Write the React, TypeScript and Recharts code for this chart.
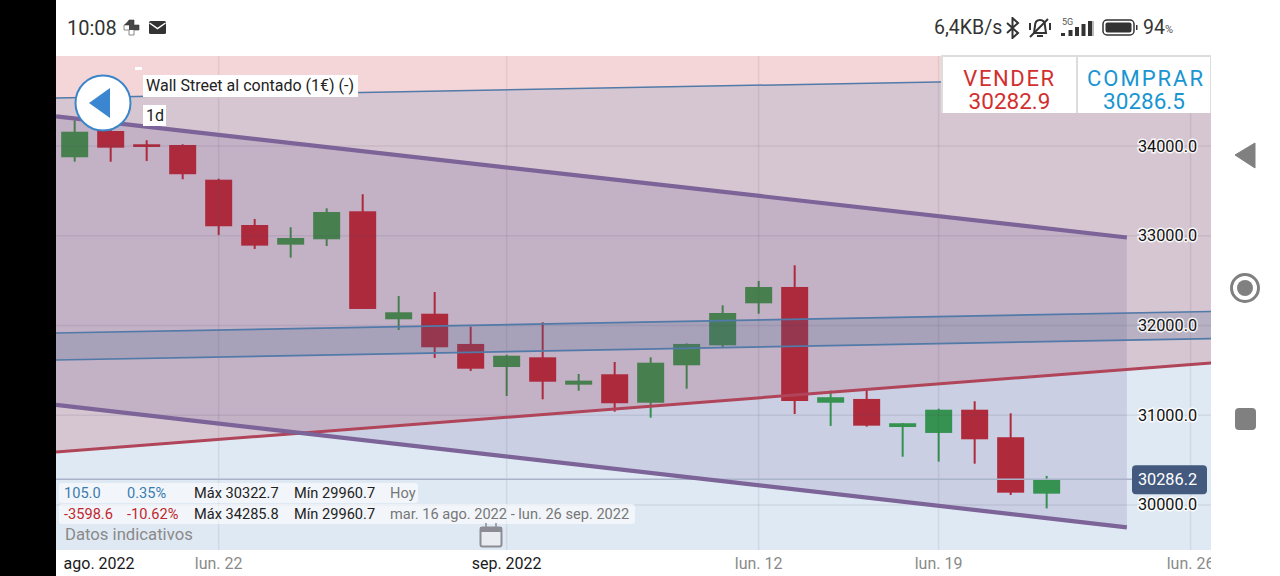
import React from 'react';
import { ComposedChart, Bar, Area, Line, XAxis, YAxis, ReferenceLine } from 'recharts';

// candles: one value per trading day
const indexes = [0,1,2,3,4,5,6,7,8,9,10,11,12,13,14,15,16,17,18,19,20,21,22,23,24,25,26,27];
const opens = [33875,34168,34020,34012,33625,33120,32901,32961,33273,32069,32131,31794,31537,31645,31340,31456,31139,31556,31779,32247,32429,31139,31181,30868,30802,31061,30754,30125];
const closes = [34160,33982,33990,33686,33106,32890,32975,33265,32184,32147,31757,31518,31663,31373,31385,31133,31585,31794,32139,32429,31158,31200,30883,30910,31061,30731,30136,30286];
const highs = [34286,34179,34065,34020,33636,33187,33095,33306,33463,32329,32373,31987,31674,32036,31459,31593,31645,31800,32225,32496,32671,31273,31289,30913,31072,31155,31021,30323];
const lows = [33826,33826,33834,33630,33009,32853,32756,32886,32184,31950,31638,31493,31214,31177,31273,31039,30972,31295,31752,32131,31013,30880,30872,30537,30482,30459,30110,29961];

// drawn levels, as [left end, right end]
const xFull = [-0.517, 31.567];
const xChannel = [-0.517, 29.23];
const yMin = 29497;
const yMax = 35004;
const resistanceHigh = [34536, 34770];
const bandUpper = [31916, 32156];
const bandLower = [31615, 31854];
const supportRed = [30590, 31582];
const channelUpper = [34330, 32981];
const channelLower = [31114, 29750];
const lastPrice = 30286.2;
const xPriceEnd = 29.37;

const yTicks = [30000, 31000, 32000, 33000, 34000];
const xTicks = [0.68, 4, 12, 19, 24, 31];
const xTickLabels = ['ago. 2022', 'lun. 22', 'sep. 2022', 'lun. 12', 'lun. 19', 'lun. 26'];
const xMonthTicks = ['ago. 2022', 'sep. 2022'];
const gridX = [4, 12, 19, 24, 31];

const candles = indexes.map((x, i) => ({ x, open: opens[i], close: closes[i], high: highs[i], low: lows[i], range: [lows[i], highs[i]] }));
const band = (xs: number[], lo: number[], hi: number[]) => xs.map((x, i) => ({ x, lo: lo[i], hi: hi[i], r: [lo[i], hi[i]] }));
const pinkZone = band(xFull, supportRed, [yMax, yMax]);
const blueZone = band(xFull, [yMin, yMin], resistanceHigh);
const purpleZone = band(xChannel, channelLower, channelUpper);
const blueBand = band(xFull, bandLower, bandUpper);
const seg = (xs: number[], v: number[]) => xs.map((x, i) => ({ x, v: v[i] }));

const Candle = (p: any) => {
  const { x, y, width, height, payload } = p;
  const { open, close, high, low } = payload;
  const py = (v: number) => y + ((high - v) / (high - low)) * height;
  const up = close >= open;
  const col = up ? '#31ab36' : '#da1d18';
  const top = py(Math.max(open, close));
  const bot = py(Math.min(open, close));
  const cx = x + width / 2;
  return (
    <g>
      <rect x={cx - 1} y={y} width={2} height={height} fill={col} />
      <rect x={cx - 13.5} y={top} width={27} height={Math.max(bot - top, 1)} fill={col} />
    </g>
  );
};

const YTick = (p: any) => {
  const { y, payload } = p;
  const isLast = payload.value === lastPrice;
  const t = Number(payload.value).toFixed(1);
  const cx = 1112;
  return (
    <g>
      {isLast && <rect x={cx - 36} y={y - 14} width={75} height={29} rx={4} fill="#435a7e" />}
      <text
        x={cx - 0.5}
        y={y + 5.5}
        textAnchor="middle"
        fontFamily="Roboto"
        fontSize={16.3}
        fill={isLast ? '#ffffff' : '#111111'}
        stroke={isLast ? 'none' : 'rgba(255,255,255,0.85)'}
        strokeWidth={isLast ? 0 : 3}
        paintOrder="stroke"
      >
        {t}
      </text>
    </g>
  );
};

const XTick = (p: any) => {
  const { x, payload } = p;
  const label = xTickLabels[xTicks.indexOf(payload.value)];
  const month = xMonthTicks.includes(label);
  return (
    <text x={x} y={513} textAnchor="middle" fontFamily="Roboto" fontSize={16} fill={month ? '#1a1a1a' : '#8a8a8a'}>
      {label}
    </text>
  );
};

const T = ({ x, y, c, s = 14.6, children, w }: any) => (
  <span style={{ position: 'absolute', left: x, top: y, color: c, fontSize: s, lineHeight: '20px', whiteSpace: 'nowrap', fontWeight: w }}>{children}</span>
);

const Box = ({ x, y, w, h, bg = '#fff', r = 0 }: any) => (
  <div style={{ position: 'absolute', left: x, top: y, width: w, height: h, background: bg, borderRadius: r }} />
);

export default function App() {
  const gridStroke = 'rgba(70,70,100,0.10)';
  return (
    <div style={{ position: 'absolute', left: 0, top: 0, width: 1280, height: 576, overflow: 'hidden', background: '#fff', fontFamily: 'Roboto' }}>
      <div style={{ position: 'absolute', left: 56, top: 56 }}>
        <ComposedChart width={1155} height={520} data={candles} margin={{ top: 0, right: 0, bottom: 0, left: 0 }}>
          <XAxis
            dataKey="x"
            type="number"
            domain={[xFull[0], xFull[1]]}
            allowDataOverflow
            ticks={xTicks}
            interval={0}
            height={26}
            axisLine={false}
            tickLine={false}
            tick={<XTick />}
          />
          {gridX.map((g) => (
            <ReferenceLine key={'vx' + g} x={g} stroke={gridStroke} strokeWidth={1.5} />
          ))}
          {yTicks.map((g) => (
            <ReferenceLine key={'hy' + g} y={g} stroke={gridStroke} strokeWidth={1.5} />
          ))}
          <Bar dataKey="range" barSize={27} shape={<Candle />} isAnimationActive={false} zIndex={50} />
          <Area data={pinkZone} dataKey="r" type="linear" stroke="none" fill="#c81e28" fillOpacity={0.18} isAnimationActive={false} dot={false} activeDot={false} />
          <Area data={blueZone} dataKey="r" type="linear" stroke="none" fill="#2b6cb0" fillOpacity={0.15} isAnimationActive={false} dot={false} activeDot={false} />
          <Area data={purpleZone} dataKey="r" type="linear" stroke="none" fill="#5a3c8c" fillOpacity={0.15} isAnimationActive={false} dot={false} activeDot={false} />
          <Area data={blueBand} dataKey="r" type="linear" stroke="none" fill="#4a6a90" fillOpacity={0.22} isAnimationActive={false} dot={false} activeDot={false} />
          <ReferenceLine segment={[{ x: xFull[0], y: lastPrice }, { x: xPriceEnd, y: lastPrice }]} stroke="#a9b3c9" strokeWidth={1.6} />
          <Line data={seg(xFull, resistanceHigh)} dataKey="v" type="linear" stroke="#527aa8" strokeWidth={1.5} dot={false} activeDot={false} isAnimationActive={false} />
          <Line data={seg(xFull, bandUpper)} dataKey="v" type="linear" stroke="#527aa8" strokeWidth={1.7} dot={false} activeDot={false} isAnimationActive={false} />
          <Line data={seg(xFull, bandLower)} dataKey="v" type="linear" stroke="#527aa8" strokeWidth={1.7} dot={false} activeDot={false} isAnimationActive={false} />
          <Line data={seg(xFull, supportRed)} dataKey="v" type="linear" stroke="#b04459" strokeWidth={3} dot={false} activeDot={false} isAnimationActive={false} />
          <Line data={seg(xChannel, channelUpper)} dataKey="v" type="linear" stroke="#7c6398" strokeWidth={4.2} dot={false} activeDot={false} isAnimationActive={false} />
          <Line data={seg(xChannel, channelLower)} dataKey="v" type="linear" stroke="#7c6398" strokeWidth={4.2} dot={false} activeDot={false} isAnimationActive={false} />
          <YAxis
            type="number"
            orientation="right"
            mirror
            width={60}
            domain={[yMin, yMax]}
            allowDataOverflow
            ticks={[...yTicks, lastPrice]}
            interval={0}
            axisLine={false}
            tickLine={false}
            tick={<YTick />}
            zIndex={2000}
          />
        </ComposedChart>
      </div>

      {/* device frame */}
      <Box x={0} y={0} w={56} h={576} bg="#000" />

      {/* status bar */}
      <T x={67} y={18} c="#333" s={20}>10:08</T>
      <svg style={{ position: 'absolute', left: 122, top: 19 }} width={18} height={18}>
        <path d="M7 1h5v5h5v5h-5v5H7v-5H2V6h5z" fill="#fff" stroke="#888" />
        <path d="M7 1h5v10H7V6H2z M12 6h5v5h-5z" fill="#333" opacity="0.9" />
      </svg>
      <svg style={{ position: 'absolute', left: 149, top: 21 }} width={17} height={14}>
        <rect width={17} height={13} rx={1.5} fill="#333" />
        <path d="M0.5 2 L8.5 7.5 L16.5 2" fill="none" stroke="#fff" strokeWidth={1.5} />
      </svg>
      <T x={934} y={18} c="#333" s={19.5}>6,4KB/s</T>
      <svg style={{ position: 'absolute', left: 1004, top: 17 }} width={18} height={22}>
        <path d="M3 6l11 10-5.5 5V1l5.5 5L3 16" fill="none" stroke="#333" strokeWidth={2} />
      </svg>
      <svg style={{ position: 'absolute', left: 1028, top: 17 }} width={24} height={22}>
        <path d="M12 3c4 0 5 3 5 6l1 7H6l1-7c0-3 1-6 5-6z M9 19h6" fill="none" stroke="#333" strokeWidth={2} />
        <path d="M2 20L20 2" stroke="#333" strokeWidth={2} />
        <path d="M2 6v7M22 6v7" stroke="#333" strokeWidth={2} />
      </svg>
      <span style={{ position: 'absolute', left: 1062, top: 17, fontSize: 9, color: '#555', lineHeight: '10px' }}>5G</span>
      <svg style={{ position: 'absolute', left: 1060, top: 19 }} width={36} height={18}>
        {[0, 1, 2, 3, 4].map((i) => (
          <rect key={i} x={1 + i * 6.5 + (i > 0 ? 1 : 0)} y={14 - i * 3} width={4} height={3 + i * 3} fill="#333" />
        ))}
        <rect x={32} y={2} width={2} height={15} fill="#bbb" />
      </svg>
      <svg style={{ position: 'absolute', left: 1102, top: 18 }} width={36} height={20}>
        <rect x={1} y={2} width={31} height={15} rx={4} fill="none" stroke="#333" strokeWidth={1.5} />
        <rect x={3.5} y={4.5} width={26} height={10} rx={2} fill="#333" />
        <rect x={34} y={7} width={1.5} height={5} fill="#333" />
      </svg>
      <T x={1143} y={18} c="#333" s={19.5}>94</T>
      <T x={1165} y={20} c="#555" s={11}>%</T>

      {/* top left overlays */}
      <Box x={135} y={67} w={7} h={3} />
      <svg style={{ position: 'absolute', left: 73, top: 73 }} width={60} height={60}>
        <circle cx={30} cy={30} r={27.5} fill="#fff" stroke="#3b86c9" strokeWidth={2} />
        <path d="M16 30 L37 15 V45 Z" fill="#3b86d0" />
      </svg>
      <Box x={143} y={75} w={215} h={22} />
      <T x={146} y={76} c="#222" s={16}>Wall Street al contado (1€) (-)</T>
      <Box x={143} y={105} w={23} h={21} />
      <T x={146} y={106} c="#222" s={16}>1d</T>

      {/* price panel */}
      <Box x={941} y={55} w={270} h={58} bg="#ddd" />
      <Box x={943} y={57} w={133} h={56} />
      <Box x={1078} y={57} w={132} h={56} />
      <span style={{ position: 'absolute', left: 943, width: 133, top: 69, textAlign: 'center', color: '#d22f2f', fontSize: 22, lineHeight: '20px', letterSpacing: 1.6 }}>VENDER</span>
      <span style={{ position: 'absolute', left: 943, width: 133, top: 91, textAlign: 'center', color: '#d22f2f', fontSize: 22.5, lineHeight: '20px' }}>30282.9</span>
      <span style={{ position: 'absolute', left: 1080, width: 132, top: 69, textAlign: 'center', color: '#1995d2', fontSize: 22, lineHeight: '20px', letterSpacing: 2 }}>COMPRAR</span>
      <span style={{ position: 'absolute', left: 1078, width: 132, top: 91, textAlign: 'center', color: '#1995d2', fontSize: 22.5, lineHeight: '20px' }}>30286.5</span>

      {/* info rows */}
      <Box x={59} y={483} w={359} h={20} bg="rgba(255,255,255,0.6)" r={3} />
      <Box x={59} y={504} w={576} h={20} bg="rgba(255,255,255,0.6)" r={3} />
      <T x={64} y={483} c="#3a7cb0">105.0</T>
      <T x={127} y={483} c="#3a7cb0">0.35%</T>
      <T x={194} y={483} c="#222">Máx 30322.7</T>
      <T x={294} y={483} c="#222">Mín 29960.7</T>
      <T x={390} y={483} c="#777">Hoy</T>
      <T x={64} y={504} c="#c0282d">-3598.6</T>
      <T x={127} y={504} c="#c0282d">-10.62%</T>
      <T x={194} y={504} c="#222">Máx 34285.8</T>
      <T x={294} y={504} c="#222">Mín 29960.7</T>
      <T x={390} y={504} c="#777">mar. 16 ago. 2022 - lun. 26 sep. 2022</T>
      <T x={65} y={525} c="#8a8a8a" s={16.7}>Datos indicativos</T>
      <svg style={{ position: 'absolute', left: 479, top: 522 }} width={24} height={26}>
        <rect x={1.5} y={5.5} width={21} height={19} rx={2} fill="#e9edf2" stroke="#8c8c94" strokeWidth={2} />
        <rect x={1} y={5} width={22} height={5} fill="#8c8c94" />
        <path d="M7 1v5M17 1v5" stroke="#8c8c94" strokeWidth={1.5} />
      </svg>

      {/* nav */}
      <svg style={{ position: 'absolute', left: 1230, top: 135 }} width={30} height={300}>
        <path d="M5 20 L25 8 V33 Z" fill="#808080" stroke="#808080" strokeLinejoin="round" />
        <circle cx={15} cy={153} r={13.5} fill="none" stroke="#808080" strokeWidth={3} />
        <circle cx={15} cy={153} r={8} fill="#808080" />
        <rect x={5} y={273} width={21} height={22} rx={4} fill="#808080" />
      </svg>
    </div>
  );
}
